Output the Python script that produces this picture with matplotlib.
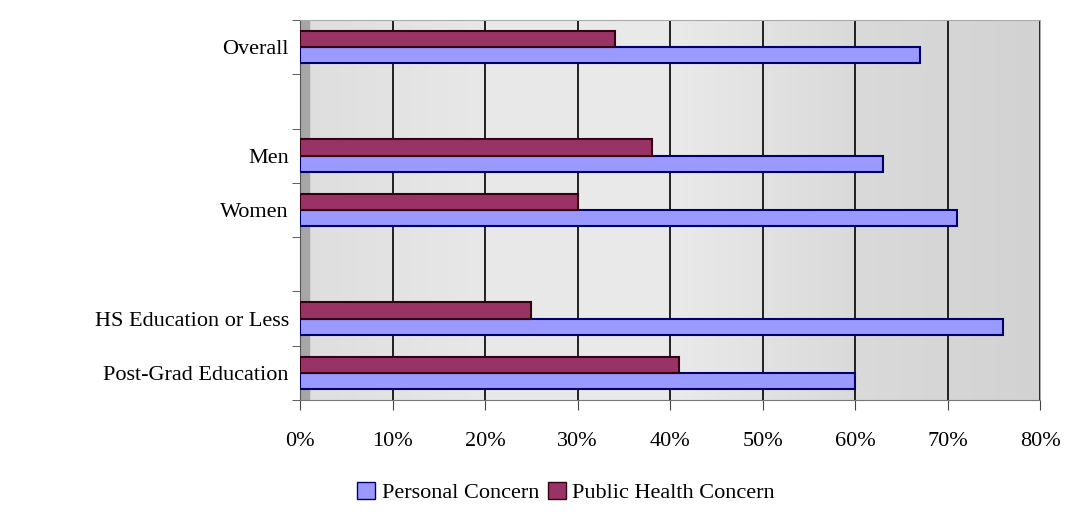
import numpy as np
import matplotlib.pyplot as plt
from matplotlib.patches import Patch
from matplotlib.colors import LinearSegmentedColormap

plt.rcParams['font.family'] = ['Liberation Serif', 'DejaVu Serif']

# survey groups, blanks are spacer rows between blocks
groups = ['Overall', '', 'Men', 'Women', '', 'HS Education or Less', 'Post-Grad Education']
personal = [67, None, 63, 71, None, 76, 60]
public = [34, None, 38, 30, None, 25, 41]
ticks = [0, 10, 20, 30, 40, 50, 60, 70, 80]

fig = plt.figure(figsize=(10.68, 5.23), dpi=100)
ax = fig.add_axes([0.281, 0.235, 0.693, 0.727])

# light grey wall, slightly darker towards the right edge
wall = LinearSegmentedColormap.from_list(
    'wall', ['#dedede', '#e8e8e8', '#eaeaea', '#dadada', '#d2d2d2'])
grad = np.linspace(0, 1, 256).reshape(1, -1)
ax.imshow(grad, extent=[0, 80, -0.5, 6.5], aspect='auto', cmap=wall, zorder=0)
ax.axvspan(0, 1.0, color='#a6a6a6', zorder=0.5)

for t in ticks[1:]:
    ax.axvline(t, color='#111111', lw=1.3, zorder=1)

y = np.arange(len(groups))
h = 0.3
for i in range(len(groups)):
    if personal[i] is None:
        continue
    ax.barh(y[i] + h / 2, personal[i], height=h, color='#9999ff',
            edgecolor='#000066', lw=1.5, zorder=3)
    ax.barh(y[i] - h / 2, public[i], height=h, color='#993366',
            edgecolor='#330011', lw=1.5, zorder=3)

ax.set_xlim(0, 80)
ax.set_ylim(6.5, -0.5)
ax.set_xticks(ticks)
ax.set_xticklabels([f'{t}%' for t in ticks], fontsize=16)
ax.tick_params(axis='x', length=7, pad=16, color='#444444')
ax.set_yticks(y)
ax.set_yticklabels(groups, fontsize=16)
ax.set_yticks(np.arange(-0.5, 7, 1), minor=True)
ax.tick_params(axis='y', which='major', length=0, pad=8)
ax.tick_params(axis='y', which='minor', length=6, color='#444444')

for side in ['top', 'right']:
    ax.spines[side].set_color('#aaaaaa')
ax.spines['left'].set_color('#555555')
ax.spines['bottom'].set_color('#777777')

handles = [Patch(facecolor='#9999ff', edgecolor='#000066', label='Personal Concern'),
           Patch(facecolor='#993366', edgecolor='#330011', label='Public Health Concern')]
fig.legend(handles=handles, loc='lower center', bbox_to_anchor=(0.53, 0.0), ncol=2,
           frameon=False, fontsize=16, handlelength=0.8, handleheight=0.8,
           handletextpad=0.3, columnspacing=0.4)

fig.savefig('out.png', dpi=100)
